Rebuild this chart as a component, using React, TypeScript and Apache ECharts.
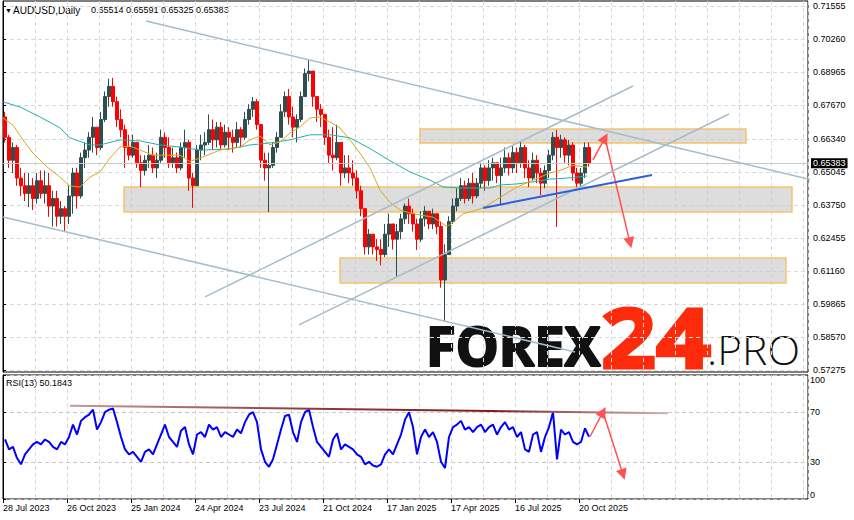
import React, { useEffect, useRef } from 'react';
import * as echarts from 'echarts';

const symbolLabel = 'AUDUSD,Daily';
const headerQuote = ['0.65514', '0.65591', '0.65325', '0.65383'];
const dateLabels = ['28 Jul 2023', '26 Oct 2023', '25 Jan 2024', '24 Apr 2024', '23 Jul 2024', '21 Oct 2024', '17 Jan 2025', '17 Apr 2025', '16 Jul 2025', '20 Oct 2025'];
const priceTicks = [0.71555, 0.7026, 0.68965, 0.6767, 0.6634, 0.65045, 0.6375, 0.62455, 0.6116, 0.59865, 0.5857, 0.57275];
const rsiTicks = [0, 30, 70, 100];

const opens = [
  0.672, 0.664, 0.655, 0.66, 0.648, 0.645, 0.642, 0.645, 0.64, 0.647, 0.642, 0.645, 0.637, 0.64, 0.633, 0.636, 0.633, 0.641, 0.65, 0.641,
  0.656, 0.659, 0.664, 0.668, 0.66, 0.671, 0.68, 0.684, 0.678, 0.671, 0.667, 0.66, 0.657, 0.662, 0.654, 0.651, 0.655, 0.657, 0.652, 0.655,
  0.664, 0.66, 0.654, 0.656, 0.652, 0.66, 0.662, 0.648, 0.645, 0.659, 0.661, 0.662, 0.667, 0.663, 0.668, 0.661, 0.666, 0.664, 0.662, 0.667,
  0.664, 0.671, 0.675, 0.678, 0.669, 0.655, 0.652, 0.653, 0.66, 0.664, 0.674, 0.68, 0.672, 0.668, 0.671, 0.68, 0.689, 0.69, 0.68, 0.675,
  0.673, 0.664, 0.657, 0.656, 0.662, 0.65, 0.652, 0.65, 0.648, 0.643, 0.636, 0.621, 0.626, 0.621, 0.62, 0.618, 0.626, 0.63, 0.624, 0.627,
  0.632, 0.637, 0.634, 0.63, 0.624, 0.632, 0.635, 0.63, 0.634, 0.629, 0.608, 0.618, 0.631, 0.637, 0.64, 0.645, 0.64, 0.646, 0.641, 0.646,
  0.652, 0.647, 0.652, 0.654, 0.649, 0.652, 0.656, 0.652, 0.658, 0.654, 0.66, 0.652, 0.648, 0.655, 0.65, 0.646, 0.651, 0.657, 0.664, 0.66,
  0.663, 0.657, 0.661, 0.65, 0.646, 0.65, 0.66,
];
const closes = [
  0.664, 0.655, 0.66, 0.648, 0.645, 0.642, 0.645, 0.64, 0.647, 0.642, 0.645, 0.637, 0.64, 0.633, 0.636, 0.633, 0.641, 0.65, 0.641, 0.656,
  0.659, 0.664, 0.668, 0.66, 0.671, 0.68, 0.684, 0.678, 0.671, 0.667, 0.66, 0.657, 0.662, 0.654, 0.651, 0.655, 0.657, 0.652, 0.655, 0.664,
  0.66, 0.654, 0.656, 0.652, 0.66, 0.662, 0.648, 0.645, 0.659, 0.661, 0.662, 0.667, 0.663, 0.668, 0.661, 0.666, 0.664, 0.662, 0.667, 0.664,
  0.671, 0.675, 0.678, 0.669, 0.655, 0.652, 0.653, 0.66, 0.664, 0.674, 0.68, 0.672, 0.668, 0.671, 0.68, 0.689, 0.69, 0.68, 0.675, 0.673,
  0.664, 0.657, 0.656, 0.662, 0.65, 0.652, 0.65, 0.648, 0.643, 0.636, 0.621, 0.626, 0.621, 0.62, 0.618, 0.626, 0.63, 0.624, 0.627, 0.632,
  0.637, 0.634, 0.63, 0.624, 0.632, 0.635, 0.63, 0.634, 0.629, 0.608, 0.618, 0.631, 0.637, 0.64, 0.645, 0.64, 0.646, 0.641, 0.646, 0.652,
  0.647, 0.652, 0.654, 0.649, 0.652, 0.656, 0.652, 0.658, 0.654, 0.66, 0.652, 0.648, 0.655, 0.65, 0.646, 0.651, 0.657, 0.664, 0.66, 0.663,
  0.657, 0.661, 0.65, 0.646, 0.65, 0.66, 0.65383,
];
const highs = [
  0.674, 0.665, 0.662, 0.661, 0.652, 0.65, 0.65, 0.648, 0.65, 0.651, 0.651, 0.65, 0.643, 0.643, 0.639, 0.637, 0.645, 0.652, 0.652, 0.658,
  0.662, 0.666, 0.672, 0.668, 0.674, 0.682, 0.687, 0.6873, 0.68, 0.675, 0.669, 0.665, 0.665, 0.662, 0.657, 0.657, 0.661, 0.66, 0.658, 0.667,
  0.666, 0.664, 0.66, 0.658, 0.662, 0.667, 0.663, 0.65, 0.661, 0.665, 0.666, 0.673, 0.671, 0.67, 0.67, 0.669, 0.668, 0.667, 0.67, 0.668,
  0.674, 0.677, 0.6798, 0.679, 0.669, 0.658, 0.658, 0.662, 0.666, 0.677, 0.682, 0.683, 0.676, 0.673, 0.682, 0.691, 0.6944, 0.69, 0.68, 0.677,
  0.673, 0.667, 0.668, 0.669, 0.662, 0.657, 0.657, 0.655, 0.651, 0.645, 0.636, 0.628, 0.626, 0.624, 0.624, 0.63, 0.634, 0.63, 0.63, 0.634,
  0.638, 0.64, 0.636, 0.632, 0.635, 0.637, 0.635, 0.636, 0.634, 0.631, 0.622, 0.633, 0.64, 0.644, 0.648, 0.647, 0.648, 0.65, 0.648, 0.654,
  0.653, 0.655, 0.656, 0.654, 0.656, 0.66, 0.658, 0.661, 0.66, 0.6622, 0.661, 0.655, 0.658, 0.657, 0.652, 0.653, 0.659, 0.666, 0.6669, 0.665,
  0.664, 0.663, 0.662, 0.652, 0.652, 0.662, 0.662,
];
const lows = [
  0.662, 0.652, 0.65, 0.645, 0.641, 0.639, 0.6366, 0.6355, 0.638, 0.64, 0.638, 0.6328, 0.629, 0.629, 0.63, 0.6269, 0.63, 0.634, 0.636, 0.64,
  0.652, 0.656, 0.658, 0.657, 0.659, 0.67, 0.676, 0.676, 0.668, 0.664, 0.652, 0.655, 0.656, 0.652, 0.6445, 0.649, 0.652, 0.65, 0.648, 0.654,
  0.656, 0.652, 0.652, 0.65, 0.651, 0.656, 0.643, 0.6363, 0.645, 0.655, 0.657, 0.661, 0.659, 0.66, 0.659, 0.66, 0.659, 0.658, 0.66, 0.66,
  0.663, 0.669, 0.672, 0.667, 0.652, 0.647, 0.6347, 0.652, 0.658, 0.664, 0.672, 0.669, 0.664, 0.662, 0.67, 0.68, 0.686, 0.676, 0.67, 0.668,
  0.661, 0.654, 0.651, 0.655, 0.645, 0.648, 0.646, 0.645, 0.64, 0.633, 0.618, 0.618, 0.618, 0.6155, 0.6138, 0.617, 0.621, 0.62, 0.6092, 0.624,
  0.63, 0.63, 0.627, 0.6198, 0.623, 0.629, 0.628, 0.628, 0.626, 0.605, 0.5916, 0.618, 0.63, 0.635, 0.639, 0.638, 0.639, 0.638, 0.64, 0.644,
  0.643, 0.645, 0.647, 0.646, 0.6374, 0.65, 0.649, 0.65, 0.65, 0.652, 0.648, 0.6445, 0.647, 0.646, 0.6413, 0.644, 0.648, 0.655, 0.6288, 0.656,
  0.654, 0.653, 0.647, 0.6445, 0.645, 0.648, 0.6525,
];

const rsiValues = [
  48, 40, 42, 33, 28, 36, 40, 44, 46, 44, 48, 46, 42, 40, 46, 44, 50, 60, 52, 63,
  66, 68, 72, 56, 62, 70, 72, 73, 62, 50, 40, 36, 38, 34, 30, 38, 40, 36, 44, 52,
  60, 50, 46, 42, 55, 58, 44, 36, 52, 54, 50, 60, 56, 58, 50, 54, 52, 50, 56, 53,
  62, 68, 70, 62, 40, 30, 26, 32, 44, 56, 67, 68, 54, 46, 62, 70, 72, 58, 46, 42,
  38, 34, 48, 53, 40, 44, 42, 40, 36, 34, 28, 30, 27, 26, 28, 36, 40, 36, 44, 52,
  64, 70, 58, 36, 50, 56, 50, 54, 46, 30, 25, 50, 58, 60, 63, 56, 58, 54, 58, 60,
  54, 58, 60, 52, 58, 62, 56, 58, 50, 54, 40, 38, 52, 54, 38, 50, 58, 70, 32, 56,
  52, 54, 46, 44, 46, 57, 50.1843,
];

const maFast = [
  [0, 0.6716], [2.5, 0.6688], [5, 0.663], [7.5, 0.6578], [11, 0.6524], [14.25, 0.6484], [16.75, 0.6449], [19.25, 0.6445],
  [21.75, 0.6484], [24.25, 0.6504], [26.75, 0.6559], [29.25, 0.6602], [31.75, 0.6606], [34.25, 0.659], [37.5, 0.657], [41, 0.657],
  [44.25, 0.657], [46.75, 0.6545], [50, 0.6563], [54.25, 0.659], [59.25, 0.6602], [61.75, 0.663], [64.25, 0.6645], [66.75, 0.661],
  [69.25, 0.6622], [71.75, 0.6657], [74.25, 0.6681], [76.75, 0.6716], [79.25, 0.672], [81.75, 0.67], [84.25, 0.6677], [86.75, 0.663],
  [89.25, 0.6578], [91.75, 0.652], [94.25, 0.6433], [96.75, 0.6384], [99.25, 0.6355], [101.75, 0.6343], [104.25, 0.6335], [107.5, 0.6327],
  [111, 0.629], [112.5, 0.6306], [115, 0.634], [117.5, 0.635], [120, 0.6363], [124.25, 0.6404], [128.5, 0.6445], [132.5, 0.6472],
  [136.75, 0.65], [139.25, 0.651], [142.5, 0.653], [146, 0.6523],
];
const maSlow = [
  [0, 0.6779], [4.25, 0.6759], [9.25, 0.672], [14.25, 0.6677], [16.75, 0.6638], [21.75, 0.661], [24.25, 0.661], [29.25, 0.663],
  [34.25, 0.6626], [39.25, 0.661], [44.25, 0.6602], [49.25, 0.659], [56.75, 0.6594], [61.75, 0.661], [66.75, 0.6618], [71.75, 0.663],
  [76.75, 0.665], [81.75, 0.665], [86.75, 0.6638], [91.75, 0.6596], [96.75, 0.6548], [101.75, 0.6504], [106.75, 0.6472], [110, 0.6445],
  [114.25, 0.6441], [121.75, 0.6441], [124.25, 0.6453], [128.5, 0.6457], [132.5, 0.6465], [136.75, 0.6476], [141, 0.648], [146, 0.6488],
];

// zones: [fromSlot, toSlot, topPrice, bottomPrice]
const zones = [
  [104.25, 185.75, 0.66728, 0.66179],
  [30.25, 197.25, 0.64453, 0.63472],
  [84.25, 195.75, 0.61667, 0.60685],
];
const channelLines = [
  [[35.75, 0.70966], [212.75, 0.64335]],
  [[0, 0.63276], [143, 0.57978]],
  [[50.5, 0.60136], [157.5, 0.68416]],
  [[74, 0.59038], [181.5, 0.67317]],
];
const supportLine = [[120, 0.63628], [162.25, 0.64924]];
const priceArrows = [
  [[147.5, 0.65512], [150.5, 0.66375]],
  [[150.5, 0.66375], [156.75, 0.62255]],
];
const rsiTrend = [[16.75, 75.3], [166.25, 69.2]];
const rsiArrows = [
  [[146.75, 50.2], [150, 70.2]],
  [[150, 70.2], [155, 19.8]],
];

const FONT = '"Liberation Sans", Arial, sans-serif';

export default function App() {
  const ref = useRef<HTMLDivElement>(null);
  useEffect(() => {
    if (!ref.current) return;
    const chart = echarts.init(ref.current, null, { renderer: 'svg' });
    const lastClose = closes[closes.length - 1];
    const lastRsi = rsiValues[rsiValues.length - 1];
    const gridLine = { show: true, lineStyle: { color: '#d9d9d9', type: [4, 3] as any, width: 1 } };

    const arrowMark = (segs: number[][][], color: string) => ({
      silent: true,
      symbol: ['none', 'triangle'],
      symbolSize: 11,
      label: { show: false },
      lineStyle: { color, width: 1.5, type: 'solid' },
      itemStyle: { color },
      data: segs.map((s) => [{ coord: s[0] }, { coord: s[1] }]),
    });

    const option: any = {
      animation: false,
      backgroundColor: '#ffffff',
      grid: [
        { left: 3, top: 1, width: 805, height: 371, show: true, borderColor: '#000', borderWidth: 1, backgroundColor: 'transparent' },
        { left: 3, top: 375, width: 805, height: 124, show: true, borderColor: '#000', borderWidth: 1, backgroundColor: 'transparent' },
      ],
      xAxis: [
        { type: 'value', gridIndex: 0, min: 0, max: 201.25, interval: 8, axisLabel: { show: false }, axisTick: { show: false }, axisLine: { show: false }, splitLine: gridLine },
        { type: 'value', gridIndex: 1, min: 0, max: 201.25, interval: 8, axisLabel: { show: false }, axisTick: { show: false }, axisLine: { show: false }, splitLine: gridLine },
        {
          type: 'value', gridIndex: 1, position: 'bottom', min: 0, max: 201.25,
          axisLine: { show: false },
          splitLine: { show: false },
          axisTick: { show: true, length: 4, lineStyle: { color: '#000' }, customValues: dateLabels.map((_, i) => i * 16) },
          axisLabel: {
            show: true, color: '#000', fontSize: 9, fontFamily: FONT, align: 'left', margin: 4,
            customValues: dateLabels.map((_, i) => i * 16),
            formatter: (v: number) => dateLabels[Math.round(v / 16)] ?? '',
          },
        },
      ],
      yAxis: [
        {
          type: 'value', gridIndex: 0, position: 'right', min: 0.5719, max: 0.7175, scale: true,
          axisLine: { show: true, lineStyle: { color: '#000' } },
          axisTick: { show: true, length: 3, inside: false, lineStyle: { color: '#000' }, customValues: priceTicks },
          axisLabel: { color: '#000', fontSize: 9, fontFamily: FONT, margin: 5, customValues: priceTicks, formatter: (v: number) => v.toFixed(5) },
          splitLine: gridLine,
        },
        {
          type: 'value', gridIndex: 1, position: 'right', min: 0, max: 100,
          axisLine: { show: true, lineStyle: { color: '#000' } },
          axisTick: { show: true, length: 3, lineStyle: { color: '#000' }, customValues: rsiTicks },
          axisLabel: {
            color: '#000', fontSize: 9, fontFamily: FONT, margin: 2, customValues: rsiTicks,
            verticalAlignMinLabel: 'bottom', verticalAlignMaxLabel: 'top',
          },
          splitLine: { show: true, lineStyle: { color: '#c8c8c8', type: [4, 3] as any, width: 1 } },
        },
      ],
      graphic: [
        { type: 'text', z: 0, x: 5, y: 10, style: { text: '▼', font: `7px ${FONT}`, fill: '#000', verticalAlign: 'middle' } },
        { type: 'text', z: 0, x: 13, y: 10, style: { text: symbolLabel, font: `10px ${FONT}`, fill: '#000', verticalAlign: 'middle' } },
        { type: 'text', z: 0, x: 91, y: 10, style: { text: headerQuote.join(' '), font: `9px ${FONT}`, fill: '#000', verticalAlign: 'middle' } },
        { type: 'text', z: 0, x: 6, y: 383, style: { text: `RSI(13) ${lastRsi.toFixed(4)}`, font: `9px ${FONT}`, fill: '#000', verticalAlign: 'middle' } },
        { type: 'text', z: 0, x: 426, y: 346, scaleX: 1.02, style: { text: 'FOREX', font: `bold 53px "Open Sans", sans-serif`, fill: '#111', stroke: '#111', lineWidth: 2.2, verticalAlign: 'middle' } },
        { type: 'text', z: 0, x: 601, y: 336, scaleX: 1.16, style: { text: '24', font: `bold 83px "Open Sans", sans-serif`, fill: '#fd2b0c', stroke: '#fd2b0c', lineWidth: 3, verticalAlign: 'middle' } },
        { type: 'text', z: 0, x: 707, y: 349, scaleX: 1.04, style: { text: '.PRO', font: `300 41px "Open Sans", sans-serif`, fill: '#111', verticalAlign: 'middle' } },
      ],
      series: [
        {
          type: 'candlestick', xAxisIndex: 0, yAxisIndex: 0, z: 2, silent: true, barWidth: 3,
          encode: { x: 0, y: [1, 2, 3, 4] },
          data: closes.map((c, i) => [i + 0.5, opens[i], c, lows[i], highs[i]]),
          itemStyle: { color: '#2f4f4f', color0: '#ff0000', borderColor: '#2f4f4f', borderColor0: '#ff0000', borderWidth: 1 },
        },
        { type: 'line', xAxisIndex: 0, yAxisIndex: 0, z: 3, silent: true, symbol: 'none', data: maSlow, lineStyle: { color: '#20b2aa', width: 1 } },
        { type: 'line', xAxisIndex: 0, yAxisIndex: 0, z: 3, silent: true, symbol: 'none', data: maFast, lineStyle: { color: '#daa520', width: 1 } },
        {
          type: 'line', xAxisIndex: 0, yAxisIndex: 0, z: 4, silent: true, symbol: 'none', data: [],
          markArea: {
            silent: true,
            itemStyle: { color: 'rgba(200,200,200,0.62)', borderColor: '#f3c46a', borderWidth: 1.5 },
            data: zones.map((zn) => [{ coord: [zn[0], zn[2]] }, { coord: [zn[1], zn[3]] }]),
          },
          markLine: {
            silent: true, symbol: 'none',
            lineStyle: { color: '#c8c8c8', type: 'solid', width: 1 },
            label: {
              show: true, position: 'end', distance: 3, formatter: lastClose.toFixed(5),
              backgroundColor: '#000', color: '#fff', fontSize: 9, fontFamily: FONT, padding: [1, 2, 0, 2],
            },
            data: [[{ coord: [0, lastClose] }, { coord: [201.25, lastClose] }]],
          },
        },
        ...channelLines.map((ln) => ({
          type: 'line', xAxisIndex: 0, yAxisIndex: 0, z: 5, silent: true, symbol: 'none', clip: false,
          data: ln, lineStyle: { color: '#a6bccb', width: 1.5 },
        })),
        { type: 'line', xAxisIndex: 0, yAxisIndex: 0, z: 5, silent: true, symbol: 'none', data: supportLine, lineStyle: { color: '#2c5fd9', width: 2 } },
        { type: 'line', xAxisIndex: 0, yAxisIndex: 0, z: 6, silent: true, symbol: 'none', data: [], markLine: arrowMark(priceArrows, '#ff5252') },
        {
          type: 'line', xAxisIndex: 1, yAxisIndex: 1, z: 3, silent: true, symbol: 'none',
          data: rsiValues.map((v, i) => [i + 0.5, v]), lineStyle: { color: '#0000ff', width: 2 },
        },
        {
          type: 'line', xAxisIndex: 1, yAxisIndex: 1, z: 4, silent: true, symbol: 'none', data: rsiTrend,
          lineStyle: {
            width: 2,
            color: new echarts.graphic.LinearGradient(0, 0, 1, 0, [
              { offset: 0, color: '#c49a9a' },
              { offset: 0.4, color: '#8e3a3a' },
              { offset: 0.7, color: '#7a1f1f' },
              { offset: 1, color: '#d4b0b0' },
            ]),
          },
          markLine: arrowMark(rsiArrows, '#ff5252'),
        },
      ],
    };
    chart.setOption(option);
    return () => chart.dispose();
  }, []);
  return <div ref={ref} style={{ position: 'absolute', left: 0, top: 0, width: 854, height: 520, background: '#fff' }} />;
}
